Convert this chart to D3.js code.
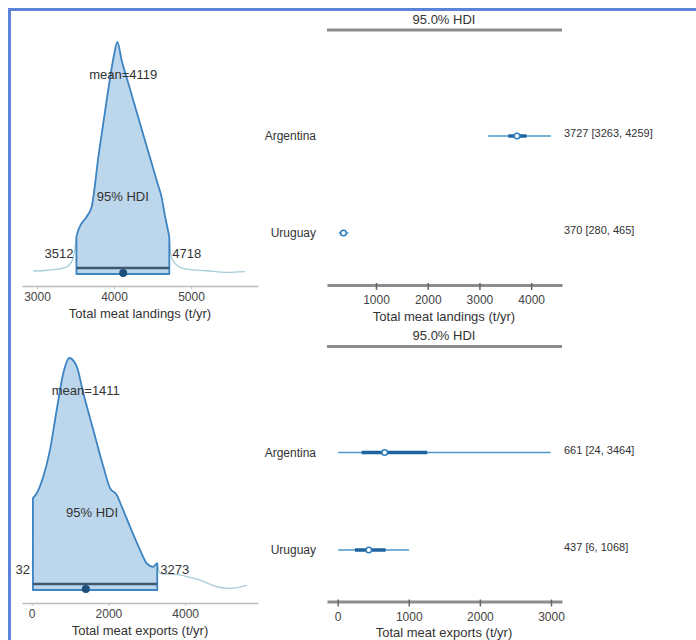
<!DOCTYPE html>
<html><head><meta charset="utf-8">
<script src="https://cdn.jsdelivr.net/npm/d3@7"></script>
<style>body{margin:0;background:#fff}svg{display:block}</style>
</head><body>
<script>
// ---------- data ----------
const landingsX = [2950,3100,3250,3350,3430,3480,3512,3536,3645,3710,3800,3900,3960,4000,4043,4100,4200,4300,4400,4500,4560,4620,4660,4700,4718,4735,4760,4850,4944,5204,5464,5701];
const landingsDensity = [0.013,0.015,0.02,0.026,0.043,0.086,0.16,0.19,0.247,0.29,0.513,0.739,0.868,0.944,1.0,0.92,0.806,0.692,0.578,0.465,0.397,0.328,0.254,0.19,0.16,0.09,0.06,0.03,0.021,0.014,0.007,0.01];
const landingsMean = 4119;
const landingsHdi = [3512, 4718];

const exportsX = [32,130,303,477,652,824,980,1173,1345,1606,1867,2042,2216,2347,2563,2824,2999,3171,3230,3273,3345,3600,3867,4100,4388,4824,5170,5606];
const exportsDensity = [0.396,0.417,0.489,0.604,0.777,0.935,1.0,0.964,0.849,0.69,0.532,0.439,0.41,0.36,0.273,0.173,0.115,0.10,0.11,0.115,0.072,0.068,0.065,0.055,0.043,0.014,0.007,0.02];
const exportsMean = 1411;
const exportsHdi = [32, 3273];

const countries = ["Argentina", "Uruguay"];
const landPoint = [3727, 370];
const landHdiLow = [3263, 280];
const landHdiHigh = [4259, 465];
const landOuterLow = [3170, 280];
const landOuterHigh = [4380, 465];
const landInnerLow = [3560, 330];
const landInnerHigh = [3910, 410];

const expPoint = [661, 437];
const expHdiLow = [24, 6];
const expHdiHigh = [3464, 1068];
const expOuterLow = [9, 9];
const expOuterHigh = [2996, 1003];
const expInnerLow = [338, 243];
const expInnerHigh = [1260, 675];

const landTicks = [3000, 4000, 5000];
const expTicks = [0, 2000, 4000];
const forestLandTicks = [1000, 2000, 3000, 4000];
const forestExpTicks = [0, 1000, 2000, 3000];

const landTitle = "Total meat landings (t/yr)";
const expTitle = "Total meat exports (t/yr)";
const hdiTitle = "95.0% HDI";

// ---------- drawing ----------
const FONT = "'Liberation Sans', Arial, sans-serif";
const svg = d3.select("body").append("svg").attr("width", 696).attr("height", 640)
  .style("font-family", FONT);

function densityPanel(o) {
  const g = svg.append("g");
  const x = d3.scaleLinear().domain(o.xDomain).range([22, 258]);
  const y = d3.scaleLinear().domain([0, 1]).range([o.base, o.peak]);
  const pts = o.xs.map((v, i) => ({v, d: o.ds[i]}));
  const inside = pts.filter(p => p.v >= o.hdi[0] && p.v <= o.hdi[1]);
  const left = pts.filter(p => p.v <= o.hdi[0]);
  const right = pts.filter(p => p.v >= o.hdi[1]);
  const line = d3.line().x(p => x(p.v)).y(p => y(p.d)).curve(d3.curveMonotoneX);
  const area = d3.area().x(p => x(p.v)).y0(y(0)).y1(p => y(p.d)).curve(d3.curveMonotoneX);
  [left, right].forEach(t => {
    if (t.length > 1) g.append("path").attr("d", line(t)).attr("fill", "none")
      .attr("stroke", "#a8ccd8").attr("stroke-width", 1.3);
  });
  g.append("path").attr("d", area(inside)).attr("fill", "#bcd6ec")
    .attr("stroke", "#3c84c2").attr("stroke-width", 1.8).attr("stroke-linejoin", "round");
  // HDI bar + mean point
  g.append("line").attr("x1", x(o.hdi[0])).attr("x2", x(o.hdi[1]))
    .attr("y1", o.base - 6).attr("y2", o.base - 6)
    .attr("stroke", "#3d5870").attr("stroke-width", 2.5);
  g.append("circle").attr("cx", x(o.mean)).attr("cy", o.base - 1).attr("r", 4)
    .attr("fill", "#1d4f7a");
  // texts
  const txt = (tx, ty, s, anchor) => g.append("text").attr("x", tx).attr("y", ty)
    .attr("dominant-baseline", "central").attr("text-anchor", anchor)
    .attr("font-size", 13).attr("fill", "#333").text(s);
  txt(x(o.mean), y(0.86), "mean=" + o.mean, "middle");
  txt(x((o.hdi[0] + o.hdi[1]) / 2) - o.hdiShift, y(0.335), "95% HDI", "middle");
  txt(x(o.hdi[0]) - 3, y(0.09), String(o.hdi[0]), "end");
  txt(x(o.hdi[1]) + 3, y(0.09), String(o.hdi[1]), "start");
  // axis
  const ax = g.append("g").attr("transform", `translate(0,${o.axisY})`)
    .call(d3.axisBottom(x).tickValues(o.ticks).tickSize(3).tickSizeOuter(0).tickFormat(d3.format("d")));
  ax.select(".domain").attr("stroke", "#bdbdbd").attr("stroke-width", 1.5);
  ax.selectAll(".tick line").attr("stroke", "#bdbdbd");
  ax.selectAll(".tick text").attr("y", 11).attr("dy", null).attr("dominant-baseline", "central")
    .attr("font-size", 12).attr("fill", "#444").attr("font-family", FONT);
  g.append("text").attr("x", 140).attr("y", o.axisY + 27).attr("dominant-baseline", "central")
    .attr("text-anchor", "middle").attr("font-size", 13).attr("fill", "#333").text(o.title);
}

function forestPanel(o) {
  const g = svg.append("g");
  const x = d3.scaleLinear().domain(o.xDomain).range([327, 562]);
  const y = d3.scalePoint().domain(countries).range(o.rows);
  g.append("text").attr("x", 444).attr("y", o.top - 11).attr("dominant-baseline", "central")
    .attr("text-anchor", "middle").attr("font-size", 13).attr("fill", "#333").text(hdiTitle);
  g.append("line").attr("x1", 327).attr("x2", 562).attr("y1", o.top).attr("y2", o.top)
    .attr("stroke", "#8c8c8c").attr("stroke-width", 3);
  countries.forEach((c, i) => {
    const cy = y(c);
    g.append("text").attr("x", 316).attr("y", cy).attr("dominant-baseline", "central")
      .attr("text-anchor", "end").attr("font-size", 12).attr("fill", "#333").text(c);
    g.append("line").attr("x1", x(o.outerLo[i])).attr("x2", x(o.outerHi[i]))
      .attr("y1", cy).attr("y2", cy).attr("stroke", "#4a97c9").attr("stroke-width", 1.6);
    g.append("line").attr("x1", x(o.innerLo[i])).attr("x2", x(o.innerHi[i]))
      .attr("y1", cy).attr("y2", cy).attr("stroke", "#1f63a0").attr("stroke-width", 3.5);
    g.append("circle").attr("cx", x(o.point[i])).attr("cy", cy).attr("r", 2.8)
      .attr("fill", "#fff").attr("stroke", "#2f80bf").attr("stroke-width", 1.5);
    g.append("text").attr("x", 564).attr("y", cy - 3).attr("dominant-baseline", "central")
      .attr("font-size", 11).attr("fill", "#333")
      .text(`${o.point[i]} [${o.hdiLo[i]}, ${o.hdiHi[i]}]`);
  });
  const ax = g.append("g").attr("transform", `translate(0,${o.axisY})`)
    .call(d3.axisBottom(x).tickValues(o.ticks).tickSize(5).tickSizeOuter(0).tickFormat(d3.format("d")));
  ax.select(".domain").attr("stroke", "#8c8c8c").attr("stroke-width", 3);
  ax.selectAll(".tick line").attr("stroke", "#666").attr("stroke-width", 1.5).attr("y1", -2);
  ax.selectAll(".tick text").attr("y", 15).attr("dy", null).attr("dominant-baseline", "central")
    .attr("font-size", 12).attr("fill", "#444").attr("font-family", FONT);
  g.append("text").attr("x", 444).attr("y", o.axisY + 31).attr("dominant-baseline", "central")
    .attr("text-anchor", "middle").attr("font-size", 13).attr("fill", "#333").text(o.title);
}

densityPanel({xs: landingsX, ds: landingsDensity, mean: landingsMean, hdi: landingsHdi,
  xDomain: [2805, 5870], base: 274, peak: 42, axisY: 286, ticks: landTicks, title: landTitle, hdiShift: 0});
densityPanel({xs: exportsX, ds: exportsDensity, mean: exportsMean, hdi: exportsHdi,
  xDomain: [-253, 5900], base: 590, peak: 358, axisY: 603, ticks: expTicks, title: expTitle, hdiShift: 3});

forestPanel({xDomain: [52, 4597], rows: [136, 233], top: 30, axisY: 285, ticks: forestLandTicks,
  title: landTitle, point: landPoint, hdiLo: landHdiLow, hdiHi: landHdiHigh,
  outerLo: landOuterLow, outerHi: landOuterHigh, innerLo: landInnerLow, innerHi: landInnerHigh});
forestPanel({xDomain: [-150, 3155], rows: [452.5, 550], top: 346.5, axisY: 601.5, ticks: forestExpTicks,
  title: expTitle, point: expPoint, hdiLo: expHdiLow, hdiHi: expHdiHigh,
  outerLo: expOuterLow, outerHi: expOuterHigh, innerLo: expInnerLow, innerHi: expInnerHigh});

// frame
svg.append("line").attr("x1", 8).attr("x2", 696).attr("y1", 9.5).attr("y2", 9.5)
  .attr("stroke", "#5b84d8").attr("stroke-width", 3);
svg.append("line").attr("x1", 9.5).attr("x2", 9.5).attr("y1", 8).attr("y2", 640)
  .attr("stroke", "#5b84d8").attr("stroke-width", 3);
</script>
</body></html>
